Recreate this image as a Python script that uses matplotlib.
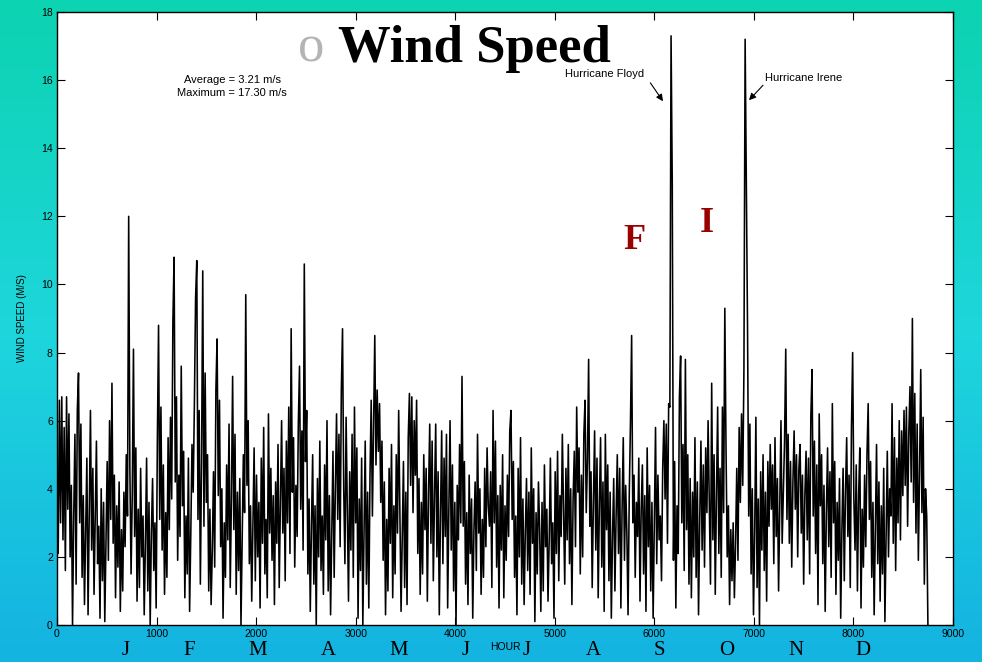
import numpy as np
import matplotlib
matplotlib.use("Agg")
import matplotlib.pyplot as plt
from matplotlib.colors import LinearSegmentedColormap

# data: wind speed (m/s), read every 12 hours, one list per month
jan = [4.5, 2.1, 6.6, 3.0, 6.7, 2.5, 5.8, 1.6, 6.7, 3.4,
       6.2, 2.0, 4.1, 0.0, 3.2, 5.6, 1.2, 6.3, 7.4, 3.0,
       5.9, 1.4, 3.8, 0.6, 2.7, 4.9, 0.3, 3.3, 6.3, 2.2,
       4.6, 0.9, 3.1, 5.4, 1.8, 2.9, 0.2, 4.0, 1.3, 3.6,
       0.1, 2.5, 4.8, 1.9, 6.0, 3.1, 7.1, 2.4, 4.4, 0.8,
       3.5, 1.7, 4.2, 0.4, 2.8, 1.0, 3.9, 2.3, 5.0, 3.2,
       12.0, 4.6]
feb = [1.5, 3.8, 8.1, 2.6, 5.2, 0.7, 3.4, 1.1, 4.6, 2.0,
       3.2, 0.3, 2.4, 4.9, 1.0, 3.6, 0.0, 2.7, 4.3, 1.6,
       3.0, 0.5, 5.4, 8.8, 3.1, 6.4, 2.2, 4.7, 0.9, 3.3,
       1.4, 5.5, 2.8, 6.1, 3.7, 8.9, 10.8, 4.2, 6.7, 1.9,
       4.4, 2.6, 7.6, 3.5, 5.1, 0.8, 3.2, 1.5, 4.9, 0.4,
       2.7, 5.3, 3.9, 6.5, 9.6, 10.7]
mar = [3.1, 6.3, 1.2, 4.8, 10.4, 2.9, 7.4, 3.6, 5.0, 1.0,
       3.4, 0.6, 2.2, 4.5, 1.7, 6.9, 8.4, 3.8, 6.6, 2.3,
       4.0, 0.2, 3.0, 1.4, 4.7, 2.5, 5.9, 1.1, 3.7, 7.3,
       2.8, 5.6, 0.9, 3.9, 1.6, 4.3, 0.0, 2.6, 5.0, 3.3,
       9.7, 4.1, 6.0, 1.8, 3.5, 0.7, 2.9, 5.2, 1.3, 4.4,
       2.0, 3.6, 0.5, 4.9, 2.4, 5.8, 1.5, 3.1, 0.8, 6.2,
       2.7, 4.6]
apr = [1.9, 3.8, 0.6, 4.2, 2.4, 5.3, 1.1, 3.6, 6.0, 2.7,
       4.6, 1.3, 5.4, 3.0, 6.4, 2.1, 8.7, 3.9, 5.5, 1.7,
       4.1, 2.6, 5.9, 7.6, 3.4, 5.7, 2.2, 10.6, 4.8, 6.3,
       1.5, 3.7, 0.4, 2.9, 5.0, 1.2, 3.5, 0.0, 4.3, 2.0,
       5.4, 1.6, 3.2, 0.9, 4.7, 2.5, 6.0, 1.0, 3.8, 0.3,
       2.8, 5.1, 1.4, 4.0, 6.2, 3.1, 5.6, 2.3, 6.9, 8.7]
may = [4.0, 1.8, 6.1, 3.3, 0.7, 4.5, 2.2, 5.6, 1.4, 6.4,
       3.0, 5.2, 0.2, 3.7, 1.6, 4.9, 0.0, 2.8, 5.4, 1.2,
       3.9, 0.5, 4.4, 6.6, 3.2, 5.8, 8.5, 4.7, 6.9, 5.1,
       6.5, 3.6, 5.4, 1.9, 4.2, 0.3, 3.1, 1.0, 4.6, 2.4,
       5.3, 0.8, 3.5, 1.5, 5.0, 2.7, 6.3, 3.4, 0.4, 2.6,
       4.8, 1.1, 3.9, 0.6, 5.5, 6.8, 4.1, 6.7, 3.3, 6.0,
       4.4, 6.6]
jun = [2.1, 4.3, 0.9, 3.6, 1.5, 5.0, 2.8, 4.6, 0.7, 3.9,
       5.9, 2.4, 5.4, 1.3, 3.8, 5.9, 2.0, 4.5, 0.3, 3.2,
       5.7, 1.8, 4.9, 2.6, 5.6, 0.5, 3.4, 6.0, 2.2, 4.7,
       1.0, 3.6, 0.0, 4.1, 2.5, 5.3, 3.0, 7.3, 2.9, 4.8,
       1.2, 3.3, 0.6, 4.4, 2.1, 3.7, 0.2, 2.8, 4.2, 1.6,
       5.6, 2.7, 4.0, 0.9, 3.1, 1.4, 4.6, 2.3, 5.2, 3.5]
jul = [2.9, 4.5, 1.1, 6.3, 3.0, 5.4, 1.7, 3.8, 0.5, 4.1,
       2.2, 5.0, 0.8, 3.5, 1.9, 4.4, 2.6, 5.7, 6.3, 3.1,
       4.8, 1.4, 3.2, 0.3, 4.6, 2.0, 5.5, 1.2, 3.7, 0.6,
       2.7, 4.3, 1.6, 3.9, 0.9, 5.2, 2.4, 4.0, 0.1, 3.3,
       1.5, 4.2, 2.8, 0.4, 3.6, 1.0, 4.7, 2.3, 3.4, 0.7,
       2.5, 4.9, 1.8, 3.0, 0.2, 4.5, 2.1, 5.1, 1.3, 3.8,
       2.6, 5.6]
aug = [3.4, 1.2, 4.6, 2.5, 5.3, 1.8, 4.0, 0.6, 3.7, 5.1,
       2.3, 6.4, 3.9, 5.2, 1.5, 4.4, 2.0, 5.6, 6.6, 3.3,
       4.8, 7.8, 2.9, 4.5, 1.1, 3.6, 5.7, 2.2, 4.9, 0.8,
       3.5, 5.5, 1.7, 4.2, 0.4, 5.6, 2.8, 4.7, 1.3, 3.9,
       0.2, 2.6, 4.3, 1.0, 3.2, 5.0, 2.1, 4.6, 0.5, 3.4,
       5.5, 1.9, 4.1, 2.7, 0.3, 3.8, 5.9, 8.5, 3.0, 4.4,
       1.4, 3.6]
sep = [2.6, 4.9, 0.7, 3.4, 4.7, 1.5, 3.8, 0.4, 5.2, 2.3,
       4.1, 1.0, 3.6, 0.2, 2.9, 5.8, 1.8, 4.4, 2.5, 3.2,
       1.3, 4.6, 6.0, 3.7, 5.9, 2.4, 6.5, 6.4, 17.3, 13.0,
       1.9, 4.8, 0.5, 3.5, 2.1, 6.7, 7.9, 3.0, 5.3, 1.6,
       7.8, 2.8, 5.0, 1.2, 4.3, 0.8, 3.9, 2.0, 5.5, 1.4,
       4.2, 0.3, 3.1, 5.4, 2.2, 4.7, 1.7, 5.2, 3.3, 6.0]
oct_ = [3.6, 1.2, 7.1, 2.5, 5.0, 0.9, 3.8, 6.4, 2.1, 4.6,
        1.4, 6.4, 3.3, 9.3, 5.2, 2.0, 3.5, 0.6, 2.8, 1.3,
        3.0, 0.8, 2.4, 4.6, 1.9, 5.8, 3.6, 6.2, 4.1, 7.5,
        17.2, 12.8, 8.8, 3.2, 5.9, 1.5, 4.0, 0.3, 2.7, 6.1,
        1.1, 3.7, 0.0, 4.5, 2.2, 5.0, 1.6, 3.9, 0.7, 4.8,
        2.9, 5.3, 3.4, 4.7, 1.8, 5.5, 2.6, 4.3, 1.0, 3.6,
        6.0, 2.4]
nov = [3.9, 5.4, 8.1, 3.1, 5.6, 2.4, 4.8, 1.7, 4.2, 5.7,
       3.4, 5.0, 2.0, 4.6, 5.3, 2.7, 4.4, 1.2, 3.8, 5.1,
       2.5, 4.9, 1.5, 6.1, 7.5, 3.2, 5.4, 2.1, 4.7, 0.6,
       6.2, 3.5, 5.0, 1.8, 4.1, 0.4, 3.3, 5.2, 2.3, 4.5,
       1.4, 6.5, 3.0, 4.8, 0.9, 3.6, 1.9, 4.3, 0.2, 2.8,
       4.6, 1.3, 3.9, 5.5, 2.6, 4.4, 1.1, 5.8, 8.0, 3.7]
dec = [2.2, 4.7, 1.0, 3.8, 5.2, 0.5, 3.4, 1.7, 4.4, 2.3,
       5.0, 6.5, 3.1, 4.8, 1.4, 3.6, 0.3, 2.9, 5.3, 1.8,
       4.2, 0.7, 3.5, 1.5, 4.6, 0.1, 2.7, 5.1, 2.0, 4.0,
       3.2, 6.5, 2.4, 5.5, 1.6, 4.9, 3.0, 6.0, 2.5, 5.7,
       3.8, 6.3, 4.1, 6.4, 2.9, 5.6, 7.0, 4.2, 9.0, 3.6,
       6.8, 2.7, 5.9, 1.9, 4.5, 7.5, 3.3, 6.1, 1.2, 4.0,
       3.2, 0.0]

step_hours = 12
month_letters = ['J', 'F', 'M', 'A', 'M', 'J', 'J', 'A', 'S', 'O', 'N', 'D']
month_letter_hours = [688, 1330, 2018, 2722, 3436, 4106, 4718, 5385, 6048, 6726, 7423, 8096]
x_ticks = [0, 1000, 2000, 3000, 4000, 5000, 6000, 7000, 8000, 9000]
y_ticks = [0, 2, 4, 6, 8, 10, 12, 14, 16, 18]

speed = np.array(jan + feb + mar + apr + may + jun + jul + aug + sep + oct_ + nov + dec)
hours = np.arange(len(speed)) * step_hours

sans = 'Liberation Sans'
serif = 'Liberation Serif'

fig = plt.figure(figsize=(9.82, 6.62), dpi=100)

# gradient background
bg = fig.add_axes([0, 0, 1, 1], zorder=0)
bg_cmap = LinearSegmentedColormap.from_list(
    'bg', [(0.0, '#14b3e1'), (0.5, '#1ed6dc'), (1.0, '#0cd3b1')])
bg.imshow(np.linspace(0, 1, 256).reshape(-1, 1), aspect='auto', cmap=bg_cmap,
          extent=[0, 1, 0, 1], origin='lower')
bg.axis('off')

ax = fig.add_axes([57 / 982, 37 / 662, 896 / 982, 613 / 662], zorder=1)
ax.set_facecolor('white')
ax.plot(hours, speed, color='black', lw=1.15)

ax.set_xlim(0, 9000)
ax.set_ylim(0, 18)
ax.set_xticks(x_ticks)
ax.set_yticks(y_ticks)
ax.tick_params(direction='in', length=6, width=0.8, top=True, right=True,
               labelsize=7.5, pad=3)
for lab in ax.get_xticklabels() + ax.get_yticklabels():
    lab.set_family(sans)
for s in ax.spines.values():
    s.set_linewidth(1.0)

ax.set_xlabel('HOUR', family=sans, fontsize=7.5, labelpad=2)
ax.set_ylabel('WIND SPEED (M/S)', family=sans, fontsize=7, labelpad=10)

# month letters under the axis
for h, m in zip(month_letter_hours, month_letters):
    ax.text(h, -0.041, m, transform=ax.get_xaxis_transform(), ha='center', va='center',
            family=serif, fontsize=15, clip_on=False)

# title
fig.text(298 / 982, 600 / 662, 'o', color='#b4b4b4', family=serif, fontsize=38,
         ha='left', va='baseline')
fig.text(338 / 982, 600 / 662, 'Wind Speed', color='black', family=serif,
         fontsize=38, fontweight='bold', ha='left', va='baseline')

ax.text(1758, 16.0, 'Average = 3.21 m/s', family=sans, fontsize=8, ha='center', va='center')
ax.text(1758, 15.62, 'Maximum = 17.30 m/s', family=sans, fontsize=8, ha='center', va='center')

# hurricane labels and arrows
ax.text(5500, 16.18, 'Hurricane Floyd', family=sans, fontsize=8, ha='center', va='center')
ax.text(7499, 16.06, 'Hurricane Irene', family=sans, fontsize=8, ha='center', va='center')
arrow = dict(arrowstyle='-|>', color='black', lw=0.8, shrinkA=0, shrinkB=0,
             mutation_scale=10)
ax.annotate('', xy=(6087, 15.38), xytext=(5960, 15.92), arrowprops=arrow)
ax.annotate('', xy=(6951, 15.41), xytext=(7092, 15.85), arrowprops=arrow)

ax.text(5796, 11.3, 'F', color='#990000', family=serif, fontsize=26,
        fontweight='bold', ha='center', va='center')
ax.text(6529, 11.8, 'I', color='#990000', family=serif, fontsize=26,
        fontweight='bold', ha='center', va='center')

fig.savefig('out.png', dpi=100)
